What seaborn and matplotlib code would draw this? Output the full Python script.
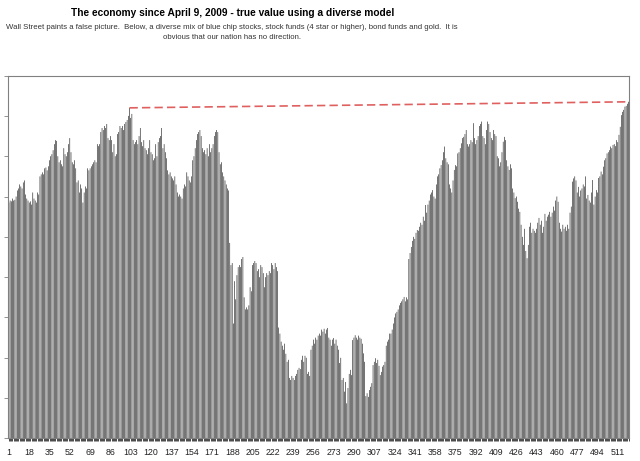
#BLOCO 01 (indice diario, escala 0-9)
import matplotlib
matplotlib.use("Agg")
import matplotlib.pyplot as plt
import seaborn as sns
import pandas as pd

# Dias 1-180: primeira alta
valores_alta = [
    5.85, 5.9, 5.88, 5.95, 5.9, 5.92, 6.0, 6.15, 6.2, 6.3, 6.25, 6.2, 6.35, 6.4, 6.05, 5.95, 5.9, 5.85, 5.88, 5.8,
    6.1, 5.95, 5.9, 5.85, 6.1, 6.05, 6.5, 6.55, 6.6, 6.55, 6.7, 6.72, 6.65, 6.75, 6.9, 7.0, 7.05, 7.15, 7.3, 7.4,
    7.38, 7.0, 6.85, 6.9, 6.8, 6.75, 7.2, 7.05, 7.0, 7.1, 7.3, 7.45, 7.1, 6.85, 6.8, 6.9, 6.7, 6.35, 6.4, 6.1,
    6.3, 6.2, 5.85, 6.1, 6.25, 6.2, 6.7, 6.65, 6.7, 6.75, 6.8, 6.85, 6.9, 6.85, 7.3, 7.25, 7.3, 7.6, 7.7, 7.65,
    7.75, 7.7, 7.8, 7.45, 7.4, 7.5, 7.4, 7.1, 7.3, 7.0, 7.05, 7.55, 7.6, 7.75, 7.7, 7.75, 7.65, 7.8, 7.85, 7.9,
    8.0, 8.2, 7.95, 8.05, 7.4, 7.3, 7.35, 7.4, 7.3, 7.5, 7.7, 7.35, 7.25, 7.4, 7.2, 7.15, 7.05, 7.2, 7.4, 7.1,
    7.05, 6.9, 6.95, 7.3, 7.0, 7.35, 7.45, 7.5, 7.7, 7.2, 7.3, 7.1, 6.95, 6.65, 6.55, 6.6, 6.5, 6.45, 6.4, 6.5,
    6.3, 6.1, 6.0, 6.05, 6.0, 5.95, 6.2, 6.3, 6.25, 6.6, 6.5, 6.4, 6.35, 6.5, 6.9, 7.0, 7.2, 7.4, 7.55, 7.6,
    7.65, 7.5, 7.2, 7.1, 7.15, 7.05, 7.2, 7.0, 7.3, 7.1, 7.2, 7.3, 7.5, 7.6, 7.65, 7.6, 7.1, 6.8, 6.85, 6.6,
]
# Dias 181-340: queda e fundo
valores_queda = [
    6.5, 6.4, 6.3, 6.2, 6.15, 4.85, 4.3, 4.35, 2.85, 3.9, 3.45, 4.05, 4.25, 4.3, 4.25, 4.45, 4.5, 3.5, 3.2, 3.25,
    3.2, 3.3, 3.75, 3.65, 4.3, 4.35, 4.4, 4.35, 4.15, 4.2, 4.0, 4.3, 4.25, 4.1, 3.75, 4.0, 4.1, 4.05, 4.15, 4.1,
    4.35, 4.3, 4.2, 4.35, 4.25, 4.15, 2.75, 2.6, 2.4, 2.3, 2.2, 2.35, 2.1, 1.9, 1.95, 1.5, 1.45, 1.55, 1.5, 1.45,
    1.55, 1.6, 1.7, 1.75, 1.72, 1.95, 2.05, 1.9, 2.05, 2.0, 1.6, 1.65, 1.55, 2.2, 2.3, 2.45, 2.35, 2.5, 2.45, 2.55,
    2.6, 2.55, 2.7, 2.65, 2.72, 2.6, 2.7, 2.74, 2.5, 2.45, 2.3, 2.45, 2.49, 2.35, 2.45, 2.3, 2.2, 1.87, 2.0, 1.45,
    1.5, 1.16, 1.4, 0.87, 1.25, 1.6, 1.7, 1.57, 2.44, 2.5, 2.56, 2.5, 2.45, 2.55, 2.5, 2.47, 2.35, 2.11, 1.9, 1.05,
    1.12, 1.03, 1.2, 1.28, 1.37, 1.82, 1.9, 1.99, 1.87, 1.95, 1.8, 1.57, 1.65, 1.78, 1.82, 1.9, 2.3, 2.4, 2.45, 2.6,
    2.6, 2.7, 2.85, 3.0, 3.1, 3.14, 3.2, 3.3, 3.36, 3.4, 3.45, 3.51, 3.4, 3.5, 3.45, 4.45, 4.6, 4.75, 4.9, 5.0,
]
# Dias 341-520: recuperacao
valores_recuperacao = [
    4.95, 5.1, 5.17, 5.15, 5.25, 5.35, 5.3, 5.5, 5.4, 5.79, 5.6, 5.8, 5.9, 6.05, 6.1, 6.16, 6.0, 5.95, 6.3, 6.5,
    6.55, 6.7, 6.78, 6.9, 7.1, 7.24, 6.95, 6.85, 6.8, 6.3, 6.2, 6.1, 6.4, 6.66, 6.78, 6.75, 7.07, 7.1, 7.2, 7.32,
    7.45, 7.48, 7.55, 7.65, 7.3, 7.24, 7.3, 7.4, 7.35, 7.82, 7.45, 7.3, 7.4, 7.5, 7.75, 7.8, 7.86, 7.5, 7.45, 7.3,
    7.65, 7.86, 7.8, 7.6, 7.45, 7.4, 7.65, 7.55, 7.5, 7.0, 6.95, 6.75, 6.85, 7.1, 7.36, 7.48, 7.4, 6.9, 6.75, 6.66,
    6.8, 6.7, 6.2, 6.1, 5.96, 6.0, 5.87, 5.7, 5.62, 5.3, 5.0, 4.8, 5.2, 4.65, 4.47, 4.8, 5.25, 5.35, 5.1, 5.2,
    5.15, 5.1, 5.2, 5.35, 5.47, 5.3, 5.4, 5.1, 5.25, 5.57, 5.4, 5.5, 5.55, 5.62, 5.5, 5.6, 5.75, 5.65, 5.9, 6.0,
    5.87, 5.35, 5.2, 5.13, 5.3, 5.2, 5.25, 5.15, 5.3, 5.2, 5.6, 5.75, 6.37, 6.45, 6.5, 6.4, 6.1, 6.24, 6.0, 6.15,
    6.2, 6.3, 6.25, 6.5, 5.95, 6.04, 5.9, 5.85, 6.1, 6.41, 5.8, 6.0, 6.16, 6.1, 6.46, 6.5, 6.62, 6.55, 6.74, 6.9,
    6.95, 7.07, 7.1, 7.15, 7.24, 7.2, 7.28, 7.3, 7.25, 7.4, 7.35, 7.53, 7.73, 8.02, 8.1, 8.15, 8.23, 8.25, 8.3, 8.35,
]
valores = valores_alta + valores_queda + valores_recuperacao
dias = list(range(1, len(valores) + 1))
rotulos_x = [1, 18, 35, 52, 69, 86, 103, 120, 137, 154, 171, 188, 205, 222, 239, 256,
             273, 290, 307, 324, 341, 358, 375, 392, 409, 426, 443, 460, 477, 494, 511]

titulo = "The economy since April 9, 2009 - true value using a diverse model"
subtitulo = ("Wall Street paints a false picture.  Below, a diverse mix of blue chip stocks, stock funds "
             "(4 star or higher), bond funds and gold.  It is\nobvious that our nation has no direction.")

df = pd.DataFrame({"dia": dias, "valor": valores})

#=================================================#
#BLOCO 02 - Grafico
sns.set_theme(style="white")
plt.rcParams["font.family"] = ["Liberation Sans", "DejaVu Sans"]

fig = plt.figure(figsize=(6.4, 4.61), dpi=100)
ax = fig.add_axes([0.013, 0.049, 0.970, 0.787])

sns.barplot(data=df, x="dia", y="valor", color="#000000",
            errorbar=None, width=0.45, saturation=1, linewidth=0, ax=ax)
# sem snap: as barras finas ficam com tons de cinza como no original
for barra in ax.patches:
    barra.set_snap(False)

# linha tracejada do pico de 2009 ate o ultimo valor
i_pico = valores.index(max(valores_alta))
i_fim = len(valores) - 1
ax.plot([i_pico, i_fim], [valores[i_pico], valores[i_fim]],
        color="#e06060", lw=1.2, dashes=(5, 2.5))

ax.set_xlim(-0.5, len(valores) - 0.5)
ax.set_ylim(0, 9)
ax.set_yticks(range(10))
ax.set_yticklabels([])
ax.set_xticks([d - 1 for d in rotulos_x])
ax.set_xticklabels([str(d) for d in rotulos_x], fontsize=6.3, color="#222222")
ax.set_xticks(range(len(valores)), minor=True)
ax.tick_params(axis="x", which="both", bottom=True, length=2, width=0.5,
               color="#000000", pad=5)
ax.tick_params(axis="y", left=True, length=3, width=0.6, color="#808080")
ax.set_xlabel("")
ax.set_ylabel("")
for lado in ax.spines.values():
    lado.set_color("#808080")
    lado.set_linewidth(0.8)

fig.text(0.363, 1 - 13 / 461, titulo, ha="center", va="center",
         fontsize=7.3, fontweight="bold", color="#000000")
fig.text(0.362, 1 - 32.5 / 461, subtitulo, ha="center", va="center",
         fontsize=5.6, color="#333333", linespacing=1.6)

fig.savefig("out.png", dpi=100)
